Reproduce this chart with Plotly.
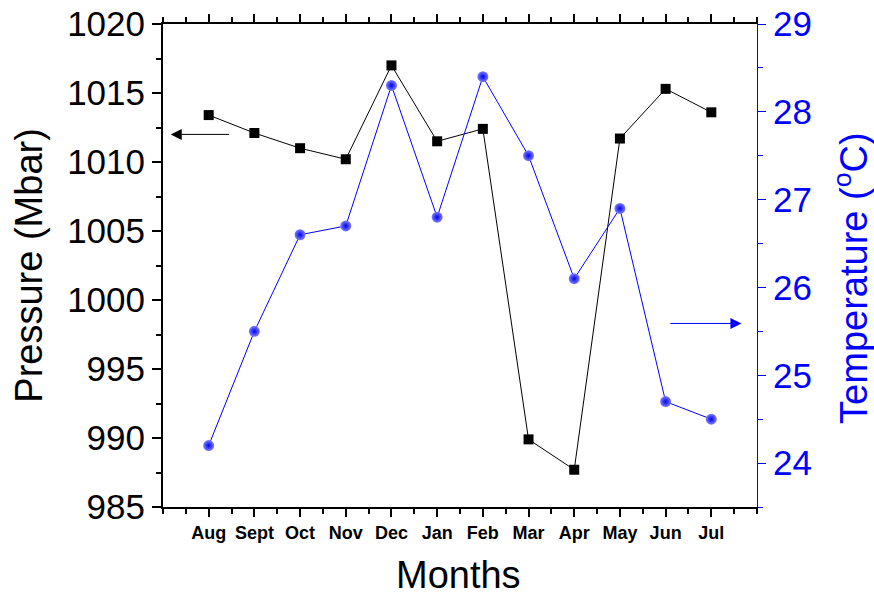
import plotly.graph_objects as go

months = ["Aug", "Sept", "Oct", "Nov", "Dec", "Jan", "Feb", "Mar", "Apr", "May", "Jun", "Jul"]
pressure = [1013.4, 1012.1, 1011.0, 1010.2, 1017.0, 1011.5, 1012.4, 989.9, 987.7, 1011.7, 1015.3, 1013.6]
temperature = [24.2, 25.5, 26.6, 26.7, 28.3, 26.8, 28.4, 27.5, 26.1, 26.9, 24.7, 24.5]

xpos = list(range(len(months)))
FONT = "Liberation Sans, Arial, sans-serif"

fig = go.Figure()
fig.add_trace(go.Scatter(
    x=xpos, y=pressure, mode="lines+markers", name="Pressure",
    line=dict(color="black", width=1),
    marker=dict(symbol="square", size=10, color="black"),
))
fig.add_trace(go.Scatter(
    x=xpos, y=temperature, mode="lines+markers", name="Temperature", yaxis="y2",
    line=dict(color="#0000ff", width=1),
    marker=dict(symbol="circle", size=11, color="#8080ff",
                gradient=dict(type="radial", color="#0000ee"),
                line=dict(width=0)),
))

fig.update_layout(
    width=874, height=597,
    margin=dict(l=163, r=117, t=24, b=90, autoexpand=False),
    paper_bgcolor="white", plot_bgcolor="white",
    showlegend=False,
    font=dict(family=FONT, color="black"),
    xaxis=dict(
        range=[-1, len(months)], tickmode="array", tickvals=xpos, ticktext=months,
        ticks="outside", ticklen=8, tickwidth=2, tickcolor="black",
        showline=True, linewidth=2, linecolor="black", mirror="ticks",
        showgrid=False, zeroline=False, automargin=False,
        tickfont=dict(family=FONT, size=18, color="black", weight="bold"),
        minor=dict(tickmode="linear", tick0=-1, dtick=0.5, ticks="outside",
                   ticklen=5, tickwidth=2, tickcolor="black", showgrid=False),
    ),
    yaxis=dict(
        range=[985, 1020], tickmode="linear", tick0=985, dtick=5,
        ticks="outside", ticklen=9, tickwidth=2, tickcolor="black",
        showline=True, linewidth=2, linecolor="black",
        showgrid=False, zeroline=False, automargin=False,
        tickfont=dict(family=FONT, size=35, color="black"),
        minor=dict(tickmode="linear", tick0=985, dtick=2.5, ticks="outside",
                   ticklen=5, tickwidth=2, tickcolor="black", showgrid=False),
    ),
    yaxis2=dict(
        range=[23.5, 29], overlaying="y", side="right",
        tickmode="linear", tick0=24, dtick=1,
        ticks="outside", ticklen=8, tickwidth=1, tickcolor="#0000ff",
        showline=True, linewidth=1, linecolor="#0000ff",
        showgrid=False, zeroline=False, automargin=False,
        tickfont=dict(family=FONT, size=35, color="#0000ff"),
        minor=dict(tickmode="linear", tick0=23.5, dtick=0.5, ticks="outside",
                   ticklen=5, tickwidth=1, tickcolor="#0000ff", showgrid=False),
    ),
    annotations=[
        dict(text="Months", xref="paper", yref="paper", x=0.497, y=-0.141,
             showarrow=False, font=dict(family=FONT, size=38, color="black"),
             xanchor="center", yanchor="middle"),
        dict(text="Pressure (Mbar)", xref="paper", yref="paper", x=-0.227, y=0.5,
             textangle=-90, showarrow=False,
             font=dict(family=FONT, size=38, color="black"),
             xanchor="center", yanchor="middle"),
        dict(text="Temperature (<sup>o</sup>C)", xref="paper", yref="paper", x=1.158, y=0.474,
             textangle=-90, showarrow=False,
             font=dict(family=FONT, size=38, color="#0000ff"),
             xanchor="center", yanchor="middle"),
        dict(x=-0.83, y=1012.0, ax=0.48, ay=1012.0, xref="x", yref="y",
             axref="x", ayref="y", text="", showarrow=True,
             arrowhead=2, arrowsize=2.2, arrowwidth=1, arrowcolor="black"),
        dict(x=11.66, y=25.59, ax=10.07, ay=25.59, xref="x", yref="y2",
             axref="x", ayref="y2", text="", showarrow=True,
             arrowhead=2, arrowsize=2.2, arrowwidth=1, arrowcolor="#0000ff"),
    ],
)

fig.write_html("out.html", config={"displayModeBar": False},
               post_script="document.body.style.margin='0';document.body.style.padding='0';")
